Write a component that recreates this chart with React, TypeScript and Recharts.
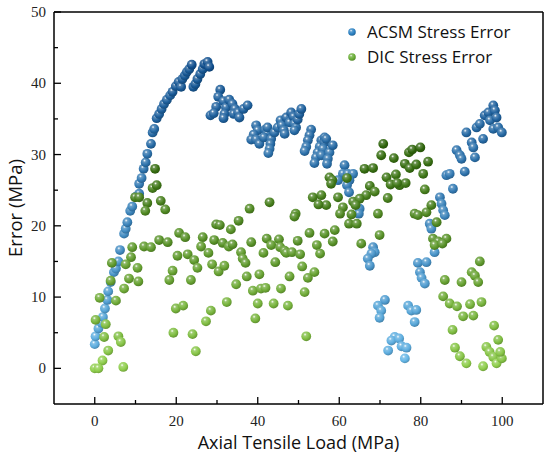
import React from "react";
import {
  ScatterChart,
  Scatter,
  XAxis,
  YAxis,
  ReferenceLine,
} from "recharts";

// ACSM stress error (blue)
const acsmLoad = [
  0.0, 0.2, 0.9, 1.7, 2.0, 2.5, 3.1, 3.3, 3.9, 4.7, 5.2, 5.8, 6.2, 7.2, 7.6, 8.0, 8.7, 9.2, 10.1, 10.9,
  10.9, 11.5, 12.0, 12.5, 12.9, 13.8, 14.2, 14.6, 15.2, 15.8, 16.4, 17.0, 17.7, 18.5, 19.1, 19.9, 20.6, 21.2, 21.5, 22.1,
  22.6, 23.2, 23.8, 24.2, 24.7, 25.2, 25.9, 26.5, 26.9, 27.7, 28.1, 28.4,
  30.8, 30.3, 29.8, 29.2, 31.6, 32.2, 31.8, 31.6, 33.0, 33.8, 34.4, 34.1, 35.2, 35.5, 36.5, 37.5,
  39.6, 40.0, 39.0, 38.4, 39.6, 40.4, 41.8, 42.3, 41.5, 42.4, 43.3, 43.1, 42.9, 42.6,
  44.1, 44.9, 45.6, 45.9, 46.4, 46.6, 47.0, 47.8, 48.2, 48.8, 49.0, 49.4, 49.8, 50.2, 50.7, 49.0,
  53.1, 52.7, 52.3, 51.9, 51.5, 55.6, 55.2, 54.7, 54.3, 53.9, 56.4, 56.4, 56.0, 55.6, 56.8, 57.6, 57.2, 58.4, 57.0,
  61.3, 60.9, 59.7, 62.1, 63.4, 62.5, 61.9, 62.4, 65.0, 64.8,
  68.3, 68.7, 67.9, 67.0, 67.5, 71.2, 69.5, 70.3, 69.9, 76.9, 77.7, 78.9, 78.5,
  73.6, 72.8, 74.7, 75.3, 76.5, 72.0, 76.1, 79.3, 81.4, 83.4, 79.8, 80.2, 81.0,
  82.2, 82.6, 84.7, 85.1, 85.5, 85.9, 86.3, 87.1, 87.9, 88.8, 89.6, 90.0, 90.8, 91.2, 92.5, 92.9, 93.3,
  93.7, 94.5, 95.3, 95.7, 96.6, 97.0, 97.8, 98.2, 98.6, 97.8, 99.0, 99.9,
];
const acsmError = [
  3.4, 4.5, 5.6, 6.4, 7.2, 8.4, 9.6, 10.8, 12.1, 13.5, 14.0, 15.0, 16.6, 18.9, 19.6, 20.5, 22.1, 22.7, 24.1, 24.5,
  25.9, 26.7, 28.0, 28.9, 30.1, 31.5, 33.1, 33.6, 35.1, 35.7, 36.4, 37.1, 37.7, 38.3, 38.8, 39.6, 40.2, 39.5, 40.6, 41.1,
  41.6, 42.0, 42.6, 39.5, 39.9, 40.6, 41.3, 42.0, 42.7, 43.0, 42.3, 35.5,
  39.1, 38.1, 36.7, 35.8, 37.5, 36.6, 35.7, 35.1, 37.7, 37.1, 36.4, 35.7, 35.9, 35.2, 36.4, 36.9,
  34.1, 33.4, 32.8, 32.1, 32.1, 31.5, 33.5, 32.9, 32.4, 33.8, 32.2, 31.5, 30.8, 30.2,
  33.1, 33.8, 34.8, 34.1, 33.4, 32.9, 35.2, 34.5, 35.9, 35.3, 34.3, 33.8, 34.9, 35.7, 36.4, 33.4,
  33.5, 32.7, 32.0, 31.1, 30.5, 32.0, 31.1, 30.3, 29.6, 28.8, 32.4, 31.7, 30.8, 29.9, 32.2, 30.3, 29.4, 31.3, 28.7,
  28.5, 27.3, 26.4, 27.3, 27.3, 26.4, 25.7, 24.7, 22.4, 21.7,
  17.0, 16.3, 16.1, 15.4, 14.4, 9.6, 8.8, 8.1, 7.1, 8.8, 8.1, 8.2, 6.5,
  4.4, 3.9, 4.2, 3.1, 2.9, 2.5, 1.4, 14.8, 14.9, 16.3, 13.5, 12.7, 11.9,
  20.3, 19.6, 24.0, 23.1, 22.2, 21.5, 27.1, 27.3, 25.2, 30.6, 29.9, 29.4, 27.6, 33.1, 31.7, 31.0, 29.6,
  33.8, 34.3, 32.2, 35.5, 35.9, 34.8, 36.9, 36.2, 35.2, 33.6, 33.8, 33.1,
];

// DIC stress error (green)
const dicLoad = [
  9.9, 10.9, 12.9, 12.4, 16.2, 17.3, 14.2, 14.8, 15.2, 20.7, 22.2, 15.8, 17.9, 12.1, 13.8, 9.2, 20.3, 22.8, 8.9, 7.6,
  10.5, 4.2, 19.1, 18.3, 8.4, 10.7, 7.2, 3.9, 1.2, 5.2, 19.9, 21.7, 0.2, 2.7, 19.3, 2.3, 5.8, 6.4, 3.3, 1.9,
  0.0, 0.9, 7.0,
  38.0, 42.9, 49.3, 49.0, 29.8, 30.7, 33.4, 35.3, 26.5, 26.1, 29.3, 31.4, 32.9, 33.8, 38.4, 27.9, 35.9, 36.3, 37.0, 42.2,
  43.3, 45.2, 45.5, 46.6, 47.0, 48.4, 49.8, 50.4, 41.4, 44.3, 52.7, 54.5, 55.3, 56.4, 24.4, 25.2, 28.8, 30.4, 31.8, 23.6,
  34.7, 37.3, 40.4, 38.8, 40.8, 41.9, 45.7, 47.8, 50.9, 52.3, 53.9, 51.5, 32.4, 40.0, 43.9, 47.4, 28.5, 27.3, 39.4, 24.0,
  24.8, 51.9,
  70.8, 70.3, 73.4, 77.1, 77.9, 79.9, 81.8, 76.1, 77.3, 78.9, 80.6, 66.2, 68.3, 73.9, 71.6, 72.6, 74.8, 76.3, 74.2, 67.5,
  68.7, 66.6, 71.9, 81.0, 57.6, 58.3, 61.9, 55.6, 59.7, 56.8, 63.4, 65.0, 64.0, 60.9, 60.2, 63.0, 62.4, 64.3, 69.5, 78.5,
  79.3, 81.4, 82.6, 83.9, 58.9, 58.4, 65.4, 69.9, 83.0, 84.3, 86.3, 83.4, 85.3, 58.0, 53.5, 54.9,
  94.5, 85.9, 90.0, 92.5, 93.3, 94.1, 85.5, 87.1, 88.9, 92.1, 94.9, 90.4, 92.9, 87.8, 98.0, 99.0, 88.4, 89.6, 91.2, 95.3,
  96.1, 96.9, 97.8, 98.6, 99.9, 99.5,
];
const dicError = [
  24.0, 24.0, 23.2, 22.1, 23.5, 22.3, 25.3, 28.0, 25.7, 19.0, 18.4, 18.0, 17.7, 17.1, 17.0, 17.0, 15.8, 16.0, 15.6, 14.6,
  14.1, 14.8, 13.7, 12.4, 12.6, 12.2, 11.2, 12.3, 9.9, 9.5, 8.4, 8.8, 6.8, 6.2, 5.0, 4.4, 4.5, 3.7, 2.5, 1.1,
  0.0, 0.0, 0.2,
  22.4, 23.3, 21.7, 21.3, 20.2, 20.1, 19.5, 20.7, 18.4, 17.1, 18.0, 17.6, 17.1, 17.4, 17.7, 16.2, 16.3, 15.4, 14.8, 18.2,
  17.3, 18.1, 17.0, 16.5, 16.2, 16.3, 17.9, 16.0, 16.2, 14.9, 19.0, 17.3, 16.1, 18.9, 15.2, 14.1, 14.6, 13.6, 14.4, 12.4,
  11.8, 12.9, 13.2, 10.9, 11.2, 11.3, 11.2, 12.9, 14.3, 12.7, 13.5, 10.7, 9.3, 9.1, 9.1, 8.8, 8.1, 6.6, 7.0, 4.8,
  2.4, 4.5,
  31.5, 29.9, 29.5, 30.3, 30.7, 31.0, 29.0, 28.7, 28.1, 28.6, 27.3, 28.0, 28.1, 27.2, 26.8, 25.8, 25.7, 26.0, 26.0, 25.6,
  24.8, 24.3, 23.9, 25.1, 26.8, 26.4, 26.7, 24.3, 24.0, 22.9, 23.4, 23.8, 22.9, 22.6, 21.7, 21.6, 20.3, 20.3, 21.7, 21.7,
  21.5, 21.9, 22.9, 20.5, 19.4, 17.8, 17.5, 18.7, 18.2, 17.8, 18.2, 17.3, 17.5, 25.9, 24.0, 23.0,
  15.0, 12.4, 12.1, 13.5, 13.0, 12.1, 10.1, 9.1, 8.7, 9.0, 9.3, 7.3, 7.4, 5.4, 6.0, 4.0, 2.9, 1.7, 0.7, 0.3,
  3.0, 2.3, 1.6, 0.7, 1.4, 2.3,
];

const xTicks = [0, 10, 20, 30, 40, 50, 60, 70, 80, 90, 100];
const yTicks = [0, 5, 10, 15, 20, 25, 30, 35, 40, 45, 50];

const acsmData = acsmLoad.map((x, i) => ({ x, y: acsmError[i] }));
const dicData = dicLoad.map((x, i) => ({ x, y: dicError[i] }));

const hex = (c: string) => [1, 3, 5].map((i) => parseInt(c.slice(i, i + 2), 16));
const mix = (a: string, b: string, t: number) => {
  const ca = hex(a);
  const cb = hex(b);
  return (
    "#" +
    ca
      .map((v, i) => Math.round(v + (cb[i] - v) * t).toString(16).padStart(2, "0"))
      .join("")
  );
};

const palette = {
  acsm: { low: "#64b6e6", high: "#104f8e", max: 44 },
  dic: { low: "#8fce4c", high: "#2f650c", max: 32 },
};

function Ball({ cx, cy, color, id, r = 4.9 }: any) {
  return (
    <g>
      <defs>
        <radialGradient id={id} cx="38%" cy="32%" r="70%">
          <stop offset="0%" stopColor="#ffffff" />
          <stop offset="22%" stopColor={mix(color, "#ffffff", 0.25)} />
          <stop offset="65%" stopColor={color} />
          <stop offset="100%" stopColor={mix(color, "#000000", 0.22)} />
        </radialGradient>
      </defs>
      <circle cx={cx} cy={cy} r={r} fill={`url(#${id})`} />
    </g>
  );
}

const makeShape = (key: "acsm" | "dic") => (props: any) => {
  const { cx, cy, payload } = props;
  if (cx == null || cy == null) return null;
  const p = palette[key];
  const step = Math.round(Math.min(1, Math.max(0, payload.y / p.max)) * 12);
  const color = mix(p.low, p.high, step / 12);
  return <Ball cx={cx} cy={cy} color={color} id={`ball-${key}-${step}`} />;
};

const XTick = ({ x, y, payload }: any) => {
  const v = payload.value;
  const major = v % 20 === 0;
  return (
    <g>
      <line x1={x} x2={x} y1={y} y2={y - (major ? 7 : 4)} stroke="#000" strokeWidth={1.3} />
      {major && (
        <text x={x} y={y + 17} textAnchor="middle" dominantBaseline="central" fontFamily="'Liberation Serif', serif" fontSize={15} fill="#222">
          {v}
        </text>
      )}
    </g>
  );
};

const YTick = ({ x, y, payload }: any) => {
  const v = payload.value;
  const major = v % 10 === 0;
  return (
    <g>
      <line x1={x} x2={x + (major ? 7 : 4)} y1={y} y2={y} stroke="#000" strokeWidth={1.3} />
      {major && (
        <text x={x - 8} y={y} textAnchor="end" dominantBaseline="central" fontFamily="'Liberation Serif', serif" fontSize={15} fill="#222">
          {v}
        </text>
      )}
    </g>
  );
};

const sans = "'Open Sans', 'Noto Sans', sans-serif";

const legendItems = [
  { name: "ACSM Stress Error", color: "#2a80c2", id: "leg-a" },
  { name: "DIC Stress Error", color: "#6aae36", id: "leg-d" },
];

export default function App() {
  return (
    <div style={{ position: "absolute", left: 0, top: 0, width: 550, height: 465, background: "#fff" }}>
      <ScatterChart width={550} height={465} margin={{ top: 12, right: 7, bottom: 0, left: 0 }}>
        <XAxis
          type="number"
          dataKey="x"
          domain={[-10, 110]}
          ticks={xTicks}
          allowDataOverflow
          height={61}
          tickSize={0}
          tickMargin={0}
          tick={<XTick />}
          axisLine={{ stroke: "#000", strokeWidth: 1.5 }}
          label={({ viewBox }: any) => (
            <text x={viewBox.x + viewBox.width / 2} y={viewBox.y + 38} textAnchor="middle" dominantBaseline="central" fontFamily={sans} fontSize={18} fill="#111">
              Axial Tensile Load (MPa)
            </text>
          )}
        />
        <YAxis
          type="number"
          dataKey="y"
          domain={[-5, 50]}
          ticks={yTicks}
          allowDataOverflow
          width={54}
          tickSize={0}
          tickMargin={0}
          tick={<YTick />}
          axisLine={{ stroke: "#000", strokeWidth: 1.5 }}
          label={({ viewBox }: any) => (
            <text
              x={14}
              y={viewBox.y + viewBox.height / 2}
              textAnchor="middle"
              dominantBaseline="central"
              fontFamily={sans}
              fontSize={18.5}
              fill="#111"
              transform={`rotate(-90 14 ${viewBox.y + viewBox.height / 2})`}
            >
              Error (MPa)
            </text>
          )}
        />
        <ReferenceLine y={50} stroke="#000" strokeWidth={1.5} />
        <ReferenceLine x={110} stroke="#000" strokeWidth={1.5} />
        <Scatter data={acsmData} shape={makeShape("acsm")} isAnimationActive={false} />
        <Scatter data={dicData} shape={makeShape("dic")} isAnimationActive={false} />
      </ScatterChart>
      <div style={{ position: "absolute", left: 346, top: 19, fontFamily: sans, fontSize: 17, color: "#111" }}>
        {legendItems.map((s) => (
          <div key={s.id} style={{ display: "flex", alignItems: "center", height: 25 }}>
            <svg width={12} height={12} style={{ marginRight: 9 }}>
              <Ball cx={6} cy={6} color={s.color} id={s.id} r={3.8} />
            </svg>
            {s.name}
          </div>
        ))}
      </div>
    </div>
  );
}
